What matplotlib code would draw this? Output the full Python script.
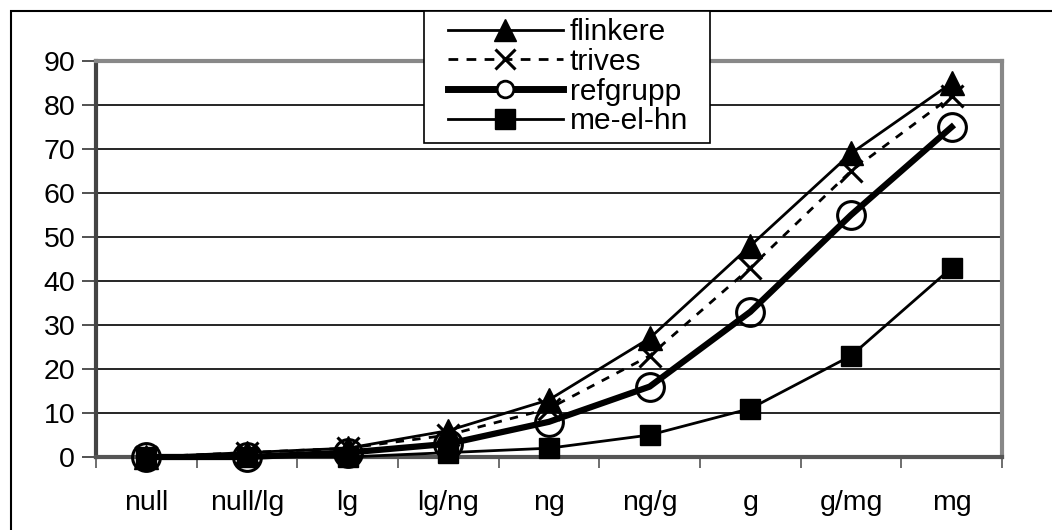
import matplotlib
matplotlib.use("Agg")
import matplotlib.pyplot as plt
from matplotlib.lines import Line2D
from matplotlib.patches import Rectangle

plt.rcParams['font.family'] = ['Liberation Sans', 'DejaVu Sans']

categories = ["null", "null/lg", "lg", "lg/ng", "ng", "ng/g", "g", "g/mg", "mg"]
flinkere = [0, 1, 2, 6, 13, 27, 48, 69, 85]
trives = [0, 1, 2, 5, 11, 23, 43, 65, 82]
refgrupp = [0, 0, 1, 3, 8, 16, 33, 55, 75]
me_el_hn = [0, 0, 0, 1, 2, 5, 11, 23, 43]
yticks = [0, 10, 20, 30, 40, 50, 60, 70, 80, 90]

W, H = 1052, 530
fig = plt.figure(figsize=(W / 100, H / 100), dpi=100)
ax = fig.add_axes([96 / W, 1 - 457 / H, (1002 - 96) / W, (457 - 61) / H])

x = list(range(len(categories)))

ax.plot(x, flinkere, color='black', lw=2, marker='^', ms=17, mfc='black', mec='black', zorder=5, clip_on=False)
ax.plot(x, trives, color='black', lw=2, ls=(0, (3, 3)), marker='x', ms=16, mew=2.2, mec='black', zorder=5, clip_on=False)
ax.plot(x, refgrupp, color='black', lw=4.5, marker='o', ms=20, mfc='none', mec='black', mew=2.2, zorder=6, clip_on=False)
ax.plot(x, me_el_hn, color='black', lw=2, marker='s', ms=15, mfc='black', mec='black', zorder=5, clip_on=False)

ax.set_xlim(-0.5, len(categories) - 0.5)
ax.set_ylim(0, 90)
ax.set_yticks(yticks)
ax.set_yticklabels([str(v) for v in yticks], fontsize=20.5)
ax.set_xticks(x)
ax.set_xticklabels(categories, fontsize=20.5)
ax.tick_params(axis='x', which='major', length=0, pad=24)
ax.set_xticks([i - 0.5 for i in range(len(categories) + 1)], minor=True)
ax.tick_params(axis='x', which='minor', length=8, width=1.2, color='#555555', direction='out')
ax.tick_params(axis='y', which='major', length=10, width=1.2, color='#333333', direction='out', pad=5)

ax.grid(axis='y', color='black', lw=1.2)
ax.set_axisbelow(True)
for s in ['top', 'right']:
    ax.spines[s].set_color('#888888')
    ax.spines[s].set_linewidth(3)
ax.spines['left'].set_color('#444444')
ax.spines['left'].set_linewidth(3)
ax.spines['bottom'].set_color('#555555')
ax.spines['bottom'].set_linewidth(3)

handles = [
    Line2D([], [], color='black', lw=2, marker='^', ms=16, mfc='black'),
    Line2D([], [], color='black', lw=2, ls=(0, (3.5, 3)), marker='x', ms=14, mew=2.2),
    Line2D([], [], color='black', lw=5, marker='o', ms=12, mfc='white', mew=2),
    Line2D([], [], color='black', lw=2, marker='s', ms=14, mfc='black'),
]
labels = ["flinkere", "trives", "refgrupp", "me-el-hn"]

fig.patches.append(Rectangle((424 / W, 1 - 143 / H), (710 - 424) / W, (143 - 11) / H,
                             transform=fig.transFigure, facecolor='white',
                             edgecolor='black', lw=1.2, zorder=9))
leg = fig.legend(handles, labels, loc='upper left',
                 bbox_to_anchor=(448 / W, 1 - 18 / H), fontsize=21.5,
                 frameon=False,
                 handlelength=3.85, handletextpad=0.23, labelspacing=0.06,
                 borderpad=0, borderaxespad=0)
leg.set_zorder(10)

fig.patches.append(Rectangle((11 / W, -0.1), 1.2, 1 - 11 / H + 0.1,
                             transform=fig.transFigure, fill=False,
                             edgecolor='black', lw=1.5, zorder=0))

fig.savefig('out.png', dpi=100)
